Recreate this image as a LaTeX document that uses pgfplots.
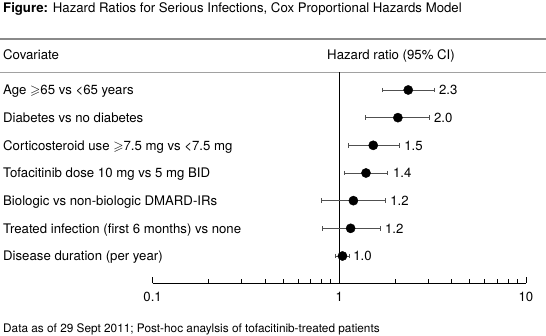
\documentclass[border=0pt]{standalone}
\usepackage{amssymb}
\usepackage{fontspec}
\setmainfont{TeX Gyre Heros}
\usepackage{pgfplots}
\pgfplotsset{compat=1.18}
\definecolor{rulegray}{HTML}{8A8A8A}
\definecolor{cigray}{HTML}{505050}
\newcommand{\fs}{\fontsize{13.2}{15}\selectfont}
\begin{document}
\begin{tikzpicture}[x=1pt,y=1pt]
\useasboundingbox (0pt,0pt) rectangle (546pt,-335pt);
\draw[rulegray, line width=1.3pt] (0pt,-39pt) -- (546pt,-39pt);
\draw[rulegray!80, line width=0.8pt] (0pt,-72pt) -- (546pt,-72pt);
\node[anchor=base west, inner sep=0] at (3pt,-12.5pt) {\fs\textbf{Figure:} Hazard Ratios for Serious Infections, Cox Proportional Hazards Model};
\node[anchor=base west, inner sep=0] at (3pt,-59.5pt) {\fs Covariate};
\node[anchor=base, inner sep=0] at (391pt,-59.5pt) {\fs Hazard ratio (95\% CI)};
\node[anchor=base west, inner sep=0] at (3pt,-332pt) {\fontsize{11.8}{13}\selectfont Data as of 29 Sept 2011; Post-hoc anaylsis of tofacitinib-treated patients};
\begin{axis}[
  at={(152.6pt,-283pt)}, anchor=south west, scale only axis,
  width=373.4pt, height=211pt,
  xmode=log, xmin=0.1, xmax=10, ymin=0.024, ymax=7.65,
  axis x line=bottom, axis y line=none, axis line style={-, black, line width=0.7pt},
  xtick={0.1,1,10}, xticklabels={{\mbox{\fs 0.1}},{\mbox{\fs 1}},{\mbox{\fs 10}}},
  tick align=inside, major tick length=6pt, minor tick length=4pt,
  every tick/.style={black, line width=0.6pt},
  xticklabel style={anchor=north, yshift=-6pt},
  clip=false,
]
\addplot[black, line width=0.8pt] coordinates {(1,0.024) (1,7.65)};
% confidence intervals
\addplot[cigray, line width=0.7pt, mark=|, mark size=2.2pt] coordinates {(1.71,7) (3.21,7)};
\addplot[cigray, line width=0.7pt, mark=|, mark size=2.2pt] coordinates {(1.385,6) (3.02,6)};
\addplot[cigray, line width=0.7pt, mark=|, mark size=2.2pt] coordinates {(1.12,5) (2.09,5)};
\addplot[cigray, line width=0.7pt, mark=|, mark size=2.2pt] coordinates {(1.06,4) (1.82,4)};
\addplot[cigray, line width=0.7pt, mark=|, mark size=2.2pt] coordinates {(0.805,3) (1.76,3)};
\addplot[cigray, line width=0.7pt, mark=|, mark size=2.2pt] coordinates {(0.81,2) (1.65,2)};
\addplot[cigray, line width=0.7pt, mark=|, mark size=2.2pt] coordinates {(0.95,1) (1.13,1)};
% point estimates
\addplot[only marks, mark=*, mark size=4.6pt, black] coordinates {
 (2.34,7) (2.06,6) (1.52,5) (1.39,4) (1.19,3) (1.15,2) (1.04,1)};
% value labels
\node[anchor=base west, inner sep=0, xshift=5pt, yshift=-4.7pt] at (axis cs:3.21,7) {\fs 2.3};
\node[anchor=base west, inner sep=0, xshift=5pt, yshift=-4.7pt] at (axis cs:3.02,6) {\fs 2.0};
\node[anchor=base west, inner sep=0, xshift=5pt, yshift=-4.7pt] at (axis cs:2.09,5) {\fs 1.5};
\node[anchor=base west, inner sep=0, xshift=5pt, yshift=-4.7pt] at (axis cs:1.82,4) {\fs 1.4};
\node[anchor=base west, inner sep=0, xshift=5pt, yshift=-4.7pt] at (axis cs:1.76,3) {\fs 1.2};
\node[anchor=base west, inner sep=0, xshift=5pt, yshift=-4.7pt] at (axis cs:1.65,2) {\fs 1.2};
\node[anchor=base west, inner sep=0, xshift=4pt, yshift=-4.7pt] at (axis cs:1.13,1) {\fs 1.0};
% covariate labels
\node[anchor=base west, inner sep=0, yshift=-4.7pt] at (axis cs:0.0158,7) {\fs Age $\geqslant$65 vs <65 years};
\node[anchor=base west, inner sep=0, yshift=-4.7pt] at (axis cs:0.0158,6) {\fs Diabetes vs no diabetes};
\node[anchor=base west, inner sep=0, yshift=-4.7pt] at (axis cs:0.0158,5) {\fs Corticosteroid use $\geqslant$7.5 mg vs <7.5 mg};
\node[anchor=base west, inner sep=0, yshift=-4.7pt] at (axis cs:0.0158,4) {\fs Tofacitinib dose 10 mg vs 5 mg BID};
\node[anchor=base west, inner sep=0, yshift=-4.7pt] at (axis cs:0.0158,3) {\fs Biologic vs non-biologic DMARD-IRs};
\node[anchor=base west, inner sep=0, yshift=-4.7pt] at (axis cs:0.0158,2) {\fs Treated infection (first 6 months) vs none};
\node[anchor=base west, inner sep=0, yshift=-4.7pt] at (axis cs:0.0158,1) {\fs Disease duration (per year)};
\end{axis}
\end{tikzpicture}
\end{document}
